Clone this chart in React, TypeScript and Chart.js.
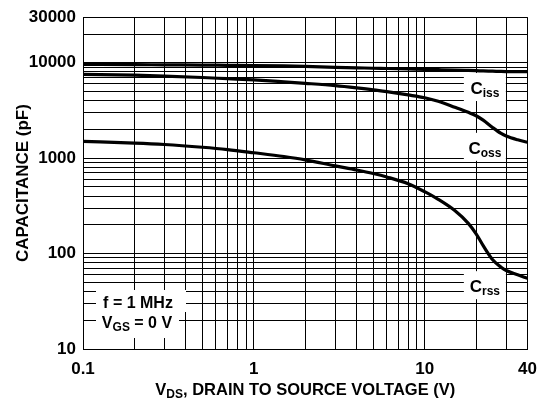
import React, { useEffect, useRef } from "react";
import { Chart, registerables } from "chart.js";

Chart.register(...registerables);

// Drain-to-source voltage (V)
const vds = [0.1, 0.2, 0.3, 0.5, 0.7, 1, 1.5, 2, 3, 4, 5, 6, 8, 10, 12, 15, 18, 20, 22, 25, 28, 30, 35, 40];
// Capacitances (pF)
const ciss = [9600, 9550, 9500, 9450, 9400, 9350, 9250, 9150, 8950, 8850, 8750, 8700, 8600, 8500, 8450, 8380, 8300, 8250, 8200, 8150, 8100, 8080, 8060, 8050];
const coss = [7550, 7400, 7250, 7000, 6800, 6600, 6300, 6080, 5750, 5450, 5200, 4970, 4600, 4300, 3950, 3420, 3020, 2780, 2500, 2090, 1815, 1705, 1556, 1466];
const crss = [1500, 1440, 1390, 1300, 1230, 1140, 1040, 960, 830, 752, 690, 635, 540, 445, 370, 282, 207, 161, 121, 86, 72, 66.5, 60, 55];

// Grid lines and labelled ticks
const xGrid = [0.1, 0.2, 0.3, 0.4, 0.5, 0.6, 0.7, 0.8, 0.9, 1, 2, 3, 4, 5, 6, 7, 8, 9, 10, 20, 30, 40];
const xLabels = [0.1, 1, 10, 40];
const yGrid = [
  10, 20, 30, 40, 50, 60, 70, 80, 90,
  100, 200, 300, 400, 500, 600, 700, 800, 900,
  1000, 2000, 3000, 4000, 5000, 6000, 7000, 8000, 9000,
  10000, 20000, 30000,
];
const yLabels = [10, 100, 1000, 10000, 30000];

// Curve label texts and their anchor (V, pF) in data space
const curveNames = ["C", "C", "C"];
const curveSubs = ["iss", "oss", "rss"];
const curveLabelV = [22.5, 22.5, 22.5];
const curveLabelC = [4700, 1110, 39.4];

const FONT = "'Liberation Sans', Arial, Helvetica, sans-serif";

function drawSubText(
  ctx: CanvasRenderingContext2D,
  parts: { t: string; sub?: boolean }[],
  cx: number,
  baseline: number,
  size: number,
  subSize: number
) {
  const widths = parts.map((p) => {
    ctx.font = `bold ${p.sub ? subSize : size}px ${FONT}`;
    return ctx.measureText(p.t).width;
  });
  const total = widths.reduce((a, b) => a + b, 0);
  let x = cx - total / 2;
  ctx.textAlign = "left";
  ctx.textBaseline = "alphabetic";
  parts.forEach((p, i) => {
    ctx.font = `bold ${p.sub ? subSize : size}px ${FONT}`;
    ctx.fillText(p.t, x, baseline + (p.sub ? 3 : 0));
    x += widths[i];
  });
  return total;
}

const annotPlugin = {
  id: "annot",
  beforeDatasetsDraw(chart: any) {
    const { ctx, scales } = chart;
    const xs = scales.x;
    const ys = scales.y;
    ctx.save();
    // curve labels with white boxes
    for (let i = 0; i < curveNames.length; i++) {
      const cx = xs.getPixelForValue(curveLabelV[i]);
      const by = ys.getPixelForValue(curveLabelC[i]);
      ctx.fillStyle = "#fff";
      ctx.fillRect(cx - 21, by - 21, 42, 28);
      ctx.fillStyle = "#000";
      drawSubText(ctx, [{ t: curveNames[i] }, { t: curveSubs[i], sub: true }], cx, by, 17, 12);
    }
    // test conditions box
    const area = chart.chartArea;
    const bx = area.left + 13;
    ctx.fillStyle = "#fff";
    ctx.fillRect(bx, 290, 90, 22);
    ctx.fillRect(bx, 312, 83, 26);
    ctx.fillStyle = "#000";
    drawSubText(ctx, [{ t: "f = 1 MHz" }], bx + 42, 308, 16, 12);
    drawSubText(ctx, [{ t: "V" }, { t: "GS", sub: true }, { t: " = 0 V" }], bx + 41, 328, 16, 12);
    ctx.restore();
  },
  afterDraw(chart: any) {
    const { ctx, chartArea } = chart;
    ctx.save();
    ctx.fillStyle = "#000";
    const cx = (chartArea.left + chartArea.right) / 2;
    drawSubText(
      ctx,
      [{ t: "V" }, { t: "DS", sub: true }, { t: ", DRAIN TO SOURCE VOLTAGE (V)" }],
      cx,
      395,
      16.5,
      12
    );
    const cy = (chartArea.top + chartArea.bottom) / 2;
    ctx.translate(28, cy);
    ctx.rotate(-Math.PI / 2);
    drawSubText(ctx, [{ t: "CAPACITANCE (pF)" }], 0, 0, 17, 12);
    ctx.restore();
  },
};

export default function App() {
  const ref = useRef<HTMLCanvasElement | null>(null);
  useEffect(() => {
    document.body.style.margin = "0";
    const canvas = ref.current!;
    const mk = (data: number[]) => data.map((v, i) => ({ x: vds[i], y: v }));
    const ds = (label: string, data: number[]) => ({
      label,
      data: mk(data),
      borderColor: "#000",
      borderWidth: 3.2,
      pointRadius: 0,
      fill: false,
      tension: 0.4,
      cubicInterpolationMode: "monotone" as const,
    });
    const tickFont = { family: FONT, size: 17, weight: "bold" as const };
    const chart = new Chart(canvas, {
      type: "line",
      data: {
        datasets: [ds("Ciss", ciss), ds("Coss", coss), ds("Crss", crss)],
      },
      options: {
        animation: false,
        responsive: false,
        devicePixelRatio: 1,
        layout: { padding: { top: 16, right: 11, left: 0, bottom: 0 } },
        plugins: { legend: { display: false }, tooltip: { enabled: false } },
        scales: {
          x: {
            type: "logarithmic",
            min: 0.1,
            max: 40,
            afterBuildTicks: (s: any) => {
              s.ticks = xGrid.map((v) => ({ value: v }));
            },
            afterFit: (s: any) => {
              s.height = 49;
            },
            ticks: {
              autoSkip: false,
              maxRotation: 0,
              minRotation: 0,
              padding: 10,
              color: "#000",
              font: tickFont,
              callback: (v: any) => (xLabels.includes(Number(v)) ? String(v) : ""),
            },
            grid: { color: "#000", lineWidth: 1, drawTicks: false },
            border: { display: true, color: "#000", width: 1 },
          },
          y: {
            type: "logarithmic",
            min: 10,
            max: 30000,
            afterBuildTicks: (s: any) => {
              s.ticks = yGrid.map((v) => ({ value: v }));
            },
            afterFit: (s: any) => {
              s.width = 83;
            },
            ticks: {
              autoSkip: false,
              padding: 7,
              color: "#000",
              font: tickFont,
              callback: (v: any) => (yLabels.includes(Number(v)) ? String(v) : ""),
            },
            grid: { color: "#000", lineWidth: 1, drawTicks: false },
            border: { display: true, color: "#000", width: 1 },
          },
        },
      },
      plugins: [annotPlugin],
    });
    return () => chart.destroy();
  }, []);
  return <canvas ref={ref} width={547} height={398} style={{ display: "block", width: 547, height: 398 }} />;
}
